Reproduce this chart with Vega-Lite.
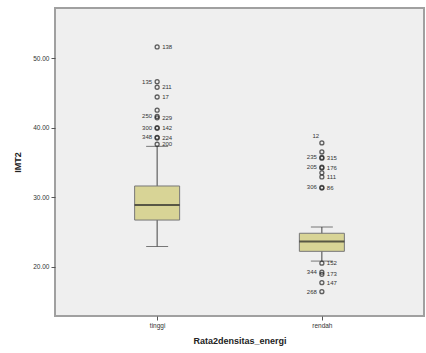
{
  "$schema": "https://vega.github.io/schema/vega-lite/v6.json",
  "width": 369,
  "height": 308,
  "autosize": "none",
  "padding": {"left": 55, "top": 8, "right": 2, "bottom": 37},
  "background": "white",
  "config": {
    "view": {"fill": "#efefef", "stroke": "#a0a0a0", "strokeWidth": 2},
    "font": "Liberation Sans"
  },
  "datasets": {
    "stats": [
      {"kelompok": "tinggi", "lower": 22.9, "q1": 26.7, "median": 28.85, "q3": 31.6, "upper": 37.3},
      {"kelompok": "rendah", "lower": 20.8, "q1": 22.2, "median": 23.6, "q3": 24.8, "upper": 25.7}
    ],
    "outR": [
      {"kelompok": "tinggi", "IMT2": 51.6, "id": "138"},
      {"kelompok": "tinggi", "IMT2": 45.8, "id": "211"},
      {"kelompok": "tinggi", "IMT2": 44.4, "id": "17"},
      {"kelompok": "tinggi", "IMT2": 42.5, "id": ""},
      {"kelompok": "tinggi", "IMT2": 41.4, "id": "229"},
      {"kelompok": "tinggi", "IMT2": 39.9, "id": "142"},
      {"kelompok": "tinggi", "IMT2": 38.5, "id": "224"},
      {"kelompok": "tinggi", "IMT2": 37.6, "id": "200"},
      {"kelompok": "rendah", "IMT2": 37.8, "id": ""},
      {"kelompok": "rendah", "IMT2": 36.5, "id": ""},
      {"kelompok": "rendah", "IMT2": 35.6, "id": "315"},
      {"kelompok": "rendah", "IMT2": 34.2, "id": "176"},
      {"kelompok": "rendah", "IMT2": 33.5, "id": ""},
      {"kelompok": "rendah", "IMT2": 32.9, "id": "111"},
      {"kelompok": "rendah", "IMT2": 31.3, "id": "86"},
      {"kelompok": "rendah", "IMT2": 20.5, "id": "152"},
      {"kelompok": "rendah", "IMT2": 18.9, "id": "173"},
      {"kelompok": "rendah", "IMT2": 17.7, "id": "147"}
    ],
    "outL": [
      {"kelompok": "tinggi", "IMT2": 46.6, "id": "135"},
      {"kelompok": "tinggi", "IMT2": 41.6, "id": "250"},
      {"kelompok": "tinggi", "IMT2": 40.0, "id": "300"},
      {"kelompok": "tinggi", "IMT2": 38.6, "id": "348"},
      {"kelompok": "rendah", "IMT2": 35.7, "id": "235"},
      {"kelompok": "rendah", "IMT2": 34.3, "id": "205"},
      {"kelompok": "rendah", "IMT2": 31.4, "id": "306"},
      {"kelompok": "rendah", "IMT2": 19.2, "id": "344"},
      {"kelompok": "rendah", "IMT2": 16.4, "id": "268"}
    ],
    "outTop": [
      {"kelompok": "rendah", "IMT2": 37.8, "id": "12"}
    ]
  },
  "encoding": {
    "x": {
      "field": "kelompok", "type": "nominal",
      "scale": {"type": "point", "domain": ["tinggi", "rendah"], "padding": 0.62},
      "axis": {"title": "Rata2densitas_energi", "labelAngle": 0, "labelFontSize": 6.5, "labelColor": "#333",
               "titleFontSize": 9, "titleFontWeight": "bold", "titleColor": "#222", "titlePadding": 8,
               "domain": false, "tickColor": "#555", "tickSize": 4, "labelPadding": 2}
    }
  },
  "layer": [
    {
      "data": {"name": "stats"},
      "mark": {"type": "rule", "color": "#444", "strokeWidth": 1},
      "encoding": {
        "y": {"field": "lower", "type": "quantitative",
              "scale": {"domain": [12.9, 57.2], "nice": false, "zero": false},
              "axis": {"title": "IMT2", "values": [20, 30, 40, 50], "format": ".2f", "grid": false,
                       "labelFontSize": 6.5, "labelColor": "#333", "titleFontSize": 9, "titleFontWeight": "bold",
                       "titleColor": "#222", "titlePadding": 10, "domain": false, "tickColor": "#555", "tickSize": 4, "labelPadding": 2}},
        "y2": {"field": "upper"}
      }
    },
    {
      "data": {"name": "stats"},
      "mark": {"type": "tick", "color": "#444", "size": 22, "thickness": 1},
      "encoding": {"y": {"field": "lower", "type": "quantitative"}}
    },
    {
      "data": {"name": "stats"},
      "mark": {"type": "tick", "color": "#444", "size": 22, "thickness": 1},
      "encoding": {"y": {"field": "upper", "type": "quantitative"}}
    },
    {
      "data": {"name": "stats"},
      "mark": {"type": "bar", "size": 45, "fill": "#d8d496", "stroke": "#777", "strokeWidth": 1},
      "encoding": {
        "y": {"field": "q1", "type": "quantitative"},
        "y2": {"field": "q3"}
      }
    },
    {
      "data": {"name": "stats"},
      "mark": {"type": "tick", "color": "#222", "size": 45, "thickness": 2},
      "encoding": {"y": {"field": "median", "type": "quantitative"}}
    },
    {
      "data": {"name": "outR"},
      "mark": {"type": "point", "shape": "circle", "size": 16, "stroke": "#222", "strokeWidth": 1.3, "filled": false},
      "encoding": {"y": {"field": "IMT2", "type": "quantitative"}}
    },
    {
      "data": {"name": "outL"},
      "mark": {"type": "point", "shape": "circle", "size": 16, "stroke": "#222", "strokeWidth": 1.3, "filled": false},
      "encoding": {"y": {"field": "IMT2", "type": "quantitative"}}
    },
    {
      "data": {"name": "outR"},
      "mark": {"type": "text", "align": "left", "dx": 5, "fontSize": 6, "color": "#333"},
      "encoding": {"y": {"field": "IMT2", "type": "quantitative"}, "text": {"field": "id"}}
    },
    {
      "data": {"name": "outL"},
      "mark": {"type": "text", "align": "right", "dx": -5, "fontSize": 6, "color": "#333"},
      "encoding": {"y": {"field": "IMT2", "type": "quantitative"}, "text": {"field": "id"}}
    },
    {
      "data": {"name": "outTop"},
      "mark": {"type": "text", "align": "center", "dx": -6, "dy": -7, "fontSize": 6, "color": "#333"},
      "encoding": {"y": {"field": "IMT2", "type": "quantitative"}, "text": {"field": "id"}}
    }
  ]
}
